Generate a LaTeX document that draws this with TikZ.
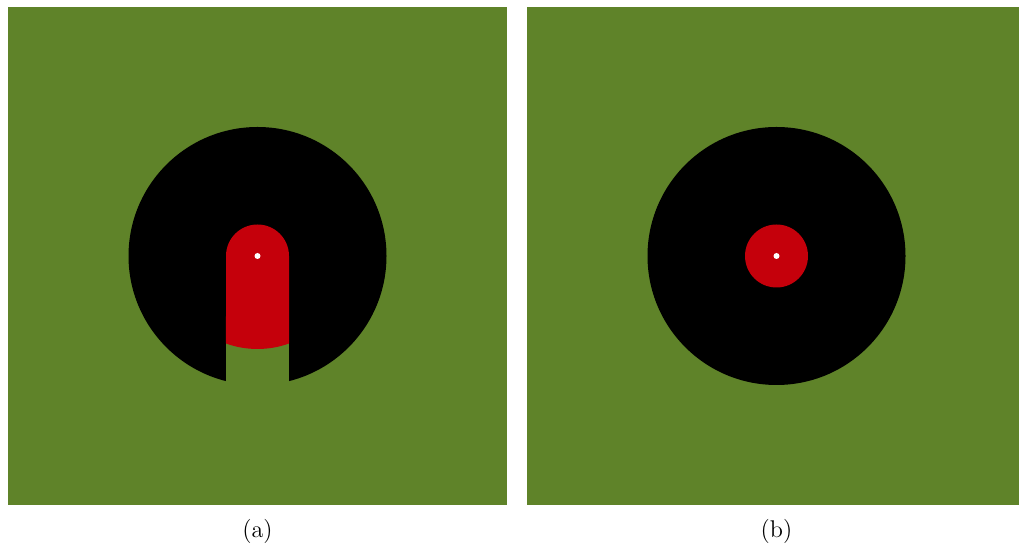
\documentclass[tikz,border=0pt]{standalone}
\usepackage[dvipsnames]{xcolor}
\usepackage{tikz}
\usetikzlibrary{calc}

\definecolor{leaf}{RGB}{95,131,41}
\definecolor{hot}{RGB}{197,0,11}

\begin{document}
\begin{tikzpicture}[
  x=0.55pt, y=0.55pt,
  field/.style={fill=leaf},
  disc/.style={fill=black},
  core/.style={fill=hot},
  pin/.style={fill=white},
  caption/.style={font=\fontsize{13.3pt}{16pt}\selectfont}
]
  \useasboundingbox (0,0) rectangle (1019,545);

  % (a) slotted disc
  \coordinate (ca) at (257.5,289);
  \fill[field] (8,40) rectangle (507,538);
  \fill[disc] (ca) circle[radius=129];
  \fill[field] ($(ca)+(-31.5,0)$) rectangle ($(ca)+(31.5,-140)$);
  \fill[core] (ca) ++(-31.5,0) arc[start angle=180, end angle=0, radius=31.5]
    -- ++(0,-87.5) arc[start angle=-70.2, end angle=-109.8, radius=93] -- cycle;
  \fill[pin] (ca) circle[radius=3];
  \node[caption] (capa) at (257.5,14) {(a)};

  % (b) full disc
  \coordinate (cb) at (776.5,289);
  \fill[field] (527,40) rectangle (1019,538);
  \fill[disc] (cb) circle[radius=129];
  \fill[core] (cb) circle[radius=31.5];
  \fill[pin] (cb) circle[radius=3];
  \node[caption] (capb) at (776.5,14) {(b)};
\end{tikzpicture}
\end{document}
